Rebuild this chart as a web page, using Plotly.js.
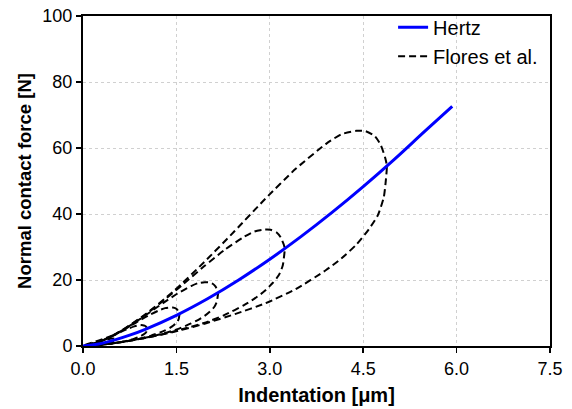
<!DOCTYPE html>
<html>
<head>
<meta charset="utf-8">
<script src="https://cdn.plot.ly/plotly-3.0.1.min.js"></script>
<style>html,body{margin:0;padding:0;background:#fff;}#chart{width:572px;height:409px;}</style>
</head>
<body>
<div id="chart"></div>
<script>
// Hertz curve
const hertzX = [0, 0.25, 0.5, 0.75, 1, 1.5, 2, 2.5, 3, 3.5, 4, 4.5, 5, 5.5, 5.93];
const hertzY = [0, 0.63, 1.79, 3.29, 5.06, 9.30, 14.31, 20.0, 26.29, 33.13, 40.48, 48.30, 56.57, 65.27, 72.6];

// Flores et al. hysteresis loops (loading followed by unloading)
const loop1X = [0, 0.052, 0.104, 0.156, 0.208, 0.26, 0.312, 0.364, 0.416, 0.442, 0.468, 0.484, 0.499, 0.510, 0.517, 0.52,
                0.518, 0.515, 0.504, 0.489, 0.468, 0.442, 0.416, 0.364, 0.312, 0.26, 0.208, 0.156, 0.104, 0.052, 0];
const loop1Y = [0, 0.11, 0.32, 0.58, 0.89, 1.22, 1.55, 1.87, 2.13, 2.23, 2.27, 2.27, 2.22, 2.12, 1.98, 1.90,
                1.76, 1.57, 1.38, 1.23, 1.07, 0.92, 0.80, 0.60, 0.45, 0.34, 0.24, 0.15, 0.08, 0.03, 0];

const loop2X = [0, 0.103, 0.206, 0.309, 0.412, 0.515, 0.618, 0.721, 0.824, 0.876, 0.927, 0.958, 0.989, 1.009, 1.025, 1.03,
                1.027, 1.020, 0.999, 0.968, 0.927, 0.876, 0.824, 0.721, 0.618, 0.515, 0.412, 0.309, 0.206, 0.103, 0];
const loop2Y = [0, 0.32, 0.89, 1.62, 2.48, 3.39, 4.33, 5.21, 5.94, 6.22, 6.32, 6.31, 6.17, 5.90, 5.51, 5.29,
                4.90, 4.37, 3.84, 3.42, 2.98, 2.57, 2.23, 1.67, 1.25, 0.94, 0.66, 0.42, 0.23, 0.08, 0];

const loop3X = [0, 0.155, 0.31, 0.465, 0.62, 0.775, 0.93, 1.085, 1.24, 1.318, 1.395, 1.442, 1.488, 1.519, 1.542, 1.55,
                1.545, 1.535, 1.504, 1.457, 1.395, 1.318, 1.24, 1.085, 0.93, 0.775, 0.62, 0.465, 0.31, 0.155, 0];
const loop3Y = [0, 0.59, 1.65, 3.00, 4.57, 6.25, 7.98, 9.60, 10.96, 11.48, 11.66, 11.64, 11.38, 10.89, 10.17, 9.76,
                9.04, 8.07, 7.09, 6.31, 5.50, 4.74, 4.12, 3.08, 2.31, 1.73, 1.21, 0.77, 0.42, 0.15, 0];

const loop4X = [0, 0.217, 0.434, 0.651, 0.868, 1.085, 1.302, 1.519, 1.736, 1.845, 1.953, 2.018, 2.083, 2.127, 2.159, 2.17,
                2.163, 2.148, 2.105, 2.040, 1.953, 1.845, 1.736, 1.519, 1.302, 1.085, 0.868, 0.651, 0.434, 0.217, 0];
const loop4Y = [0, 0.97, 2.73, 4.97, 7.57, 10.36, 13.24, 15.92, 18.17, 19.03, 19.34, 19.30, 18.87, 18.06, 16.86, 16.18,
                14.98, 13.38, 11.75, 10.47, 9.13, 7.86, 6.83, 5.11, 3.83, 2.86, 2.01, 1.28, 0.70, 0.24, 0];

const loop5X = [0, 0.324, 0.648, 0.972, 1.296, 1.62, 1.944, 2.268, 2.592, 2.754, 2.916, 3.013, 3.110, 3.175, 3.224, 3.24,
                3.230, 3.208, 3.143, 3.046, 2.916, 2.754, 2.592, 2.268, 1.944, 1.62, 1.296, 0.972, 0.648, 0.324, 0];
const loop5Y = [0, 1.77, 4.99, 9.06, 13.81, 18.89, 24.14, 29.04, 33.14, 34.70, 35.26, 35.20, 34.41, 32.93, 30.75, 29.51,
                27.33, 24.40, 21.42, 19.09, 16.64, 14.34, 12.45, 9.33, 6.99, 5.22, 3.66, 2.33, 1.27, 0.44, 0];

const loop6X = [0, 0.488, 0.976, 1.464, 1.952, 2.44, 2.928, 3.416, 3.904, 4.148, 4.392, 4.538, 4.685, 4.782, 4.856, 4.88,
                4.865, 4.831, 4.734, 4.587, 4.392, 4.148, 3.904, 3.416, 2.928, 2.44, 1.952, 1.464, 0.976, 0.488, 0];
const loop6Y = [0, 3.27, 9.22, 16.75, 25.53, 34.91, 44.62, 53.68, 61.26, 64.15, 65.19, 65.08, 63.60, 60.88, 56.84, 54.55,
                50.51, 45.11, 39.60, 35.29, 30.77, 26.51, 23.02, 17.24, 12.93, 9.66, 6.76, 4.31, 2.35, 0.82, 0];

const xTicks = [0, 1.5, 3.0, 4.5, 6.0, 7.5];
const xTickLabels = ['0.0', '1.5', '3.0', '4.5', '6.0', '7.5'];
const yTicks = [0, 20, 40, 60, 80, 100];

const loops = [[loop1X, loop1Y], [loop2X, loop2Y], [loop3X, loop3Y], [loop4X, loop4Y], [loop5X, loop5Y], [loop6X, loop6Y]];

const traces = loops.map((l, i) => ({
  x: l[0], y: l[1], type: 'scatter', mode: 'lines',
  name: 'Flores et al.', legendgroup: 'flores', showlegend: i === 0, legendrank: 2,
  line: {color: '#000000', width: 2, dash: '7px,4px', shape: 'spline', smoothing: 0.6}
}));
traces.push({
  x: hertzX, y: hertzY, type: 'scatter', mode: 'lines', name: 'Hertz', legendrank: 1,
  line: {color: '#0000ff', width: 3, shape: 'spline'}
});

const fam = 'Arial, "Liberation Sans", sans-serif';

const layout = {
  width: 572, height: 409,
  margin: {l: 83, r: 22, t: 16, b: 63, autoexpand: false},
  paper_bgcolor: '#fff', plot_bgcolor: '#fff',
  font: {family: fam, size: 18, color: '#000'},
  showlegend: true,
  legend: {x: 0.664, y: 1.025, xanchor: 'left', yanchor: 'top', bgcolor: 'rgba(0,0,0,0)',
           font: {family: fam, size: 20, color: '#000'}, tracegroupgap: 0},
  xaxis: {
    range: [0, 7.5], tickvals: xTicks, ticktext: xTickLabels,
    showline: true, linecolor: '#000', linewidth: 2, mirror: true,
    ticks: 'outside', ticklen: 5, tickcolor: '#000', tickwidth: 1.5,
    showgrid: true, gridcolor: '#d0d0d0', gridwidth: 1, griddash: 'dot',
    zeroline: false,
    tickfont: {family: fam, size: 18, color: '#000'},
    title: {text: '<b>Indentation [μm]</b>', font: {family: fam, size: 20, color: '#000'}, standoff: 10}
  },
  yaxis: {
    range: [0, 100], tickvals: yTicks,
    showline: true, linecolor: '#000', linewidth: 2, mirror: true,
    ticks: 'outside', ticklen: 5, tickcolor: '#000', tickwidth: 1.5,
    showgrid: true, gridcolor: '#d0d0d0', gridwidth: 1, griddash: 'dot',
    zeroline: false,
    tickfont: {family: fam, size: 18, color: '#000'},
    title: {text: '<b>Normal contact force [N]</b>', font: {family: fam, size: 18.5, color: '#000'}, standoff: 6}
  }
};

Plotly.newPlot('chart', traces, layout, {staticPlot: true, displayModeBar: false});
</script>
</body>
</html>
